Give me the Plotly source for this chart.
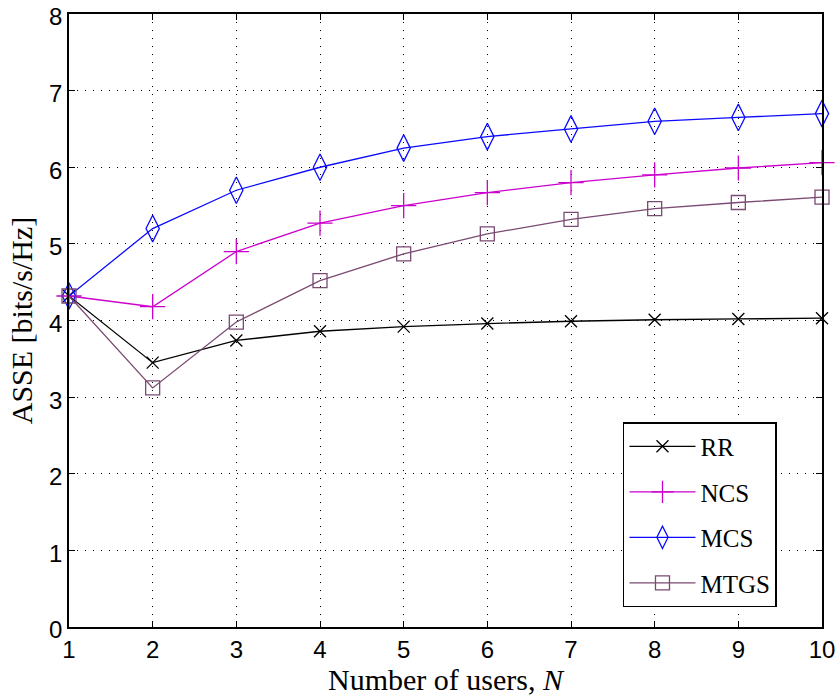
import plotly.graph_objects as go

N = [1, 2, 3, 4, 5, 6, 7, 8, 9, 10]
rr = [4.32, 3.45, 3.74, 3.86, 3.92, 3.96, 3.99, 4.01, 4.02, 4.03]
ncs = [4.32, 4.18, 4.90, 5.27, 5.50, 5.67, 5.80, 5.90, 5.99, 6.06]
mcs = [4.32, 5.20, 5.70, 6.00, 6.25, 6.40, 6.50, 6.60, 6.65, 6.70]
mtgs = [4.32, 3.12, 3.98, 4.52, 4.87, 5.13, 5.32, 5.46, 5.54, 5.61]

series = [
    ("RR", rr, "#000000", "x-thin-open", 12),
    ("NCS", ncs, "#CC00CC", "cross-thin-open", 18),
    ("MCS", mcs, "#0A0AFF", "diamond-tall-open", 19),
    ("MTGS", mtgs, "#7A4A72", "square-open", 14),
]

fig = go.Figure()
for i, (name, ys, col, sym, sz) in enumerate(series):
    fig.add_trace(go.Scatter(
        x=N, y=ys, name=name, mode="lines+markers", cliponaxis=False,
        line=dict(color=col, width=1.3),
        marker=dict(symbol=sym, size=sz, color=col, line=dict(color=col, width=1.3)),
        legendgroup=str(i),
    ))

serif = "Liberation Serif, DejaVu Serif, serif"
sans = "Liberation Sans, Arial, sans-serif"
axis_common = dict(
    showline=True, linecolor="black", linewidth=1.5, mirror="ticks",
    ticks="inside", ticklen=6, tickcolor="black", tickwidth=1,
    showgrid=True, gridcolor="black", gridwidth=1, griddash="1px,7px",
    zeroline=False, automargin=False, ticklabeloverflow="allow",
    tickfont=dict(family=sans, size=24, color="black"),
)
fig.update_xaxes(range=[1, 10], tickvals=N, **axis_common,
                 title=dict(text="Number of users, <i>N</i>", font=dict(family=serif, size=30, color="black"), standoff=4))
fig.update_yaxes(range=[0, 8], tickvals=list(range(0, 9)), **axis_common, ticklabelshift=3,
                 title=dict(text="ASSE [bits/s/Hz]", font=dict(family=serif, size=30, color="black"), standoff=8))

fig.update_layout(
    width=836, height=700,
    margin=dict(l=69, r=14, t=14, b=73),
    paper_bgcolor="white", plot_bgcolor="white",
    showlegend=True,
    legend=dict(
        x=0.7357, xanchor="left", y=0.0325, yanchor="bottom",
        bgcolor="white", bordercolor="black", borderwidth=1.5,
        font=dict(family=serif, size=25, color="black"),
        tracegroupgap=10, traceorder="grouped", itemwidth=66,
    ),
)
fig.write_html("out.html")
